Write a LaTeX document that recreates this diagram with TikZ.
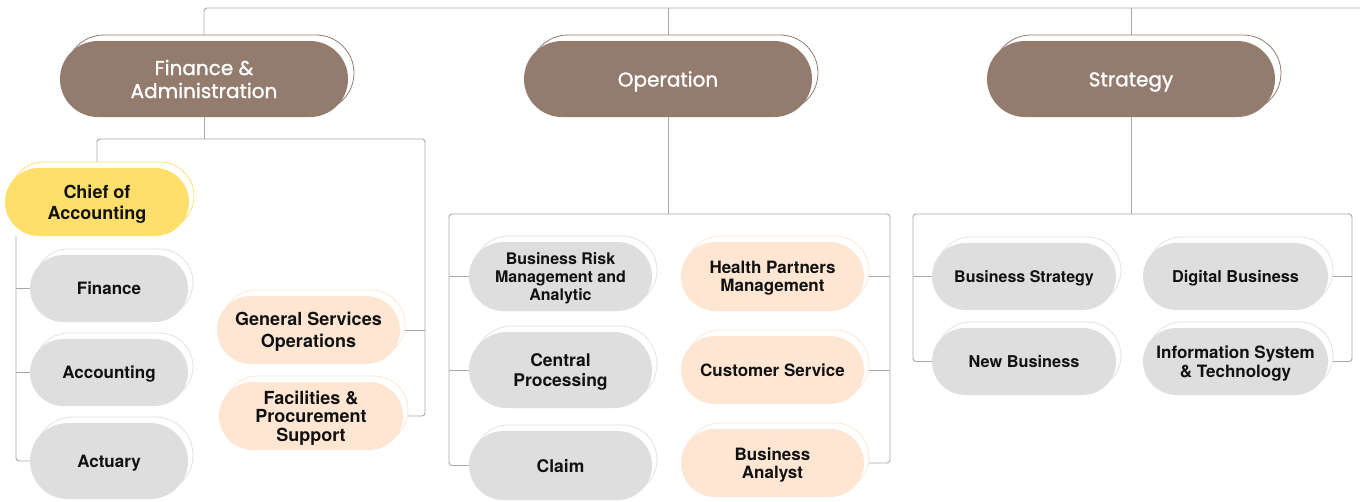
\documentclass[tikz,border=0pt]{standalone}
\usepackage{fontspec}
\newfontfamily\headfont{Poppins}[FakeBold=1.3]
\newfontfamily\childfont{TeX Gyre Heros}
\usetikzlibrary{shapes.misc,shadows,backgrounds}
\definecolor{headbrown}{RGB}{147,123,110}
\definecolor{chieffill}{RGB}{255,223,107}
\definecolor{chiefline}{RGB}{255,226,122}
\definecolor{grayfill}{RGB}{222,222,222}
\definecolor{grayline}{RGB}{226,226,226}
\definecolor{peachfill}{RGB}{254,230,211}
\definecolor{peachline}{RGB}{253,232,214}
\definecolor{linegray}{RGB}{168,168,168}
\definecolor{txt}{RGB}{17,17,17}
\begin{document}
\begin{tikzpicture}[x=1pt,y=-1pt,
  pill/.style={rounded rectangle, inner sep=0pt, align=center},
  head/.style={pill, fill=headbrown, minimum width=288pt, minimum height=76pt,
    general shadow={shadow xshift=6pt, shadow yshift=6pt, draw=headbrown, fill=white, line width=0.8pt}},
  headtxt/.style={inner sep=0pt, align=center, text=white,
    font=\headfont\fontsize{20}{23}\selectfont},
  fs/.style 2 args={font=\childfont\bfseries\fontsize{#1}{#2}\selectfont},
  child/.style={pill, text=txt, minimum width=184pt, minimum height=68pt, fs={17}{18}, text depth=0pt},
  graybox/.style={child, fill=grayfill,
    general shadow={shadow xshift=5pt, shadow yshift=6pt, draw=grayline, fill=white, line width=0.8pt}},
  peachbox/.style={child, fill=peachfill,
    general shadow={shadow xshift=5pt, shadow yshift=6pt, draw=peachline, fill=white, line width=0.8pt}},
  chiefbox/.style={child, fill=chieffill,
    general shadow={shadow xshift=5pt, shadow yshift=6pt, draw=chiefline, fill=white, line width=0.8pt}},
  conn/.style={draw=linegray, line width=0.9pt, rounded corners=3pt}
]
\useasboundingbox (0,0) rectangle (1360,501);

% headers
\node[head] (fin) at (204,79) {};
\node[head] (ops) at (668,79) {};
\node[head] (str) at (1131,79) {};
\node[headtxt] (finT) at ([yshift=0pt]fin.center) {Finance \&\\Administration};
\node[headtxt] (opsT) at ([yshift=-2.5pt]ops.center) {Operation};
\node[headtxt] (strT) at ([yshift=-3pt]str.center) {Strategy};

% finance & administration
\node[chiefbox, fs={18}{21}] (chief) at (97,202) {Chief of\\Accounting};
\node[graybox, minimum width=158pt, minimum height=67pt] (fina) at (109,288.5) {Finance};
\node[graybox, minimum width=158pt, minimum height=67pt] (acc) at (109,372.5) {Accounting};
\node[graybox, minimum width=158pt, minimum height=76pt] (act) at (109,461) {Actuary};
\node[peachbox, minimum width=183pt, fs={18}{22}] (gso) at (308.5,330) {General Services\\Operations};
\node[peachbox, fs={18}{18.5}] (fac) at (311,416) {Facilities \&\\Procurement\\Support};

% operation
\node[graybox, minimum width=183pt, minimum height=69pt, fs={16}{18}] (brm) at (560.5,276.5) {Business Risk\\Management and\\Analytic};
\node[graybox, minimum width=183pt, minimum height=76pt, fs={17.5}{20}] (cp) at (560.5,370) {Central\\Processing};
\node[graybox, minimum width=183pt, minimum height=69pt, fs={17.5}{20}] (claim) at (560.5,465.5) {Claim};
\node[peachbox, minimum width=183pt, minimum height=69pt] (hp) at (772.5,276.5) {Health Partners\\Management};
\node[peachbox, minimum width=183pt] (cs) at (772.5,370) {Customer Service};
\node[peachbox, minimum width=183pt] (ba) at (772.5,463) {Business\\Analyst};

% strategy
\node[graybox, minimum height=67pt, fs={16}{18}] (bs) at (1024,276.5) {Business Strategy};
\node[graybox, minimum height=67pt, fs={16.3}{18}] (nb) at (1024,361.5) {New Business};
\node[graybox, minimum width=185pt, minimum height=67pt, fs={16.3}{18}] (db) at (1235.5,276.5) {Digital Business};
\node[graybox, minimum width=185pt, minimum height=67pt, fs={17}{19}] (isys) at (1235.5,361.5) {Information System\\\& Technology};

% connectors
\coordinate (topR) at (1360,8);
\coordinate (fR) at (425,139);
\coordinate (fL) at (16,236);
\coordinate (oL) at (449,214);
\coordinate (oR) at (890,214);
\coordinate (sL) at (913,214);
\coordinate (sR) at (1352,214);
\begin{scope}[on background layer]
  \fill[white] (0,0) rectangle (1360,501);
  \draw[conn] (fin.north) |- (topR);
  \draw[conn] (ops.north) -- (ops.north |- topR);
  \draw[conn] (str.north) -- (str.north |- topR);
  % finance
  \draw[conn] (fin.south) -- (fin.south |- fR);
  \draw[conn] (chief.north) |- (fR) |- (fac.east);
  \draw[conn] (gso.east) -- (gso.east -| fR);
  \draw[conn] (fL) |- (act.west);
  \draw[conn] (fina.west) -- (fina.west -| fL);
  \draw[conn] (acc.west) -- (acc.west -| fL);
  % operation
  \draw[conn] (ops.south) -- (ops.south |- oL);
  \draw[conn] (claim.west) -| (oL) -- (oR) |- (ba.east);
  \draw[conn] (brm.west) -- (brm.west -| oL);
  \draw[conn] (cp.west) -- (cp.west -| oL);
  \draw[conn] (hp.east) -- (hp.east -| oR);
  \draw[conn] (cs.east) -- (cs.east -| oR);
  % strategy
  \draw[conn] (str.south) -- (str.south |- sL);
  \draw[conn] (nb.west) -| (sL) -- (sR) |- (isys.east);
  \draw[conn] (bs.west) -- (bs.west -| sL);
  \draw[conn] (db.east) -- (db.east -| sR);
\end{scope}
\end{tikzpicture}
\end{document}
